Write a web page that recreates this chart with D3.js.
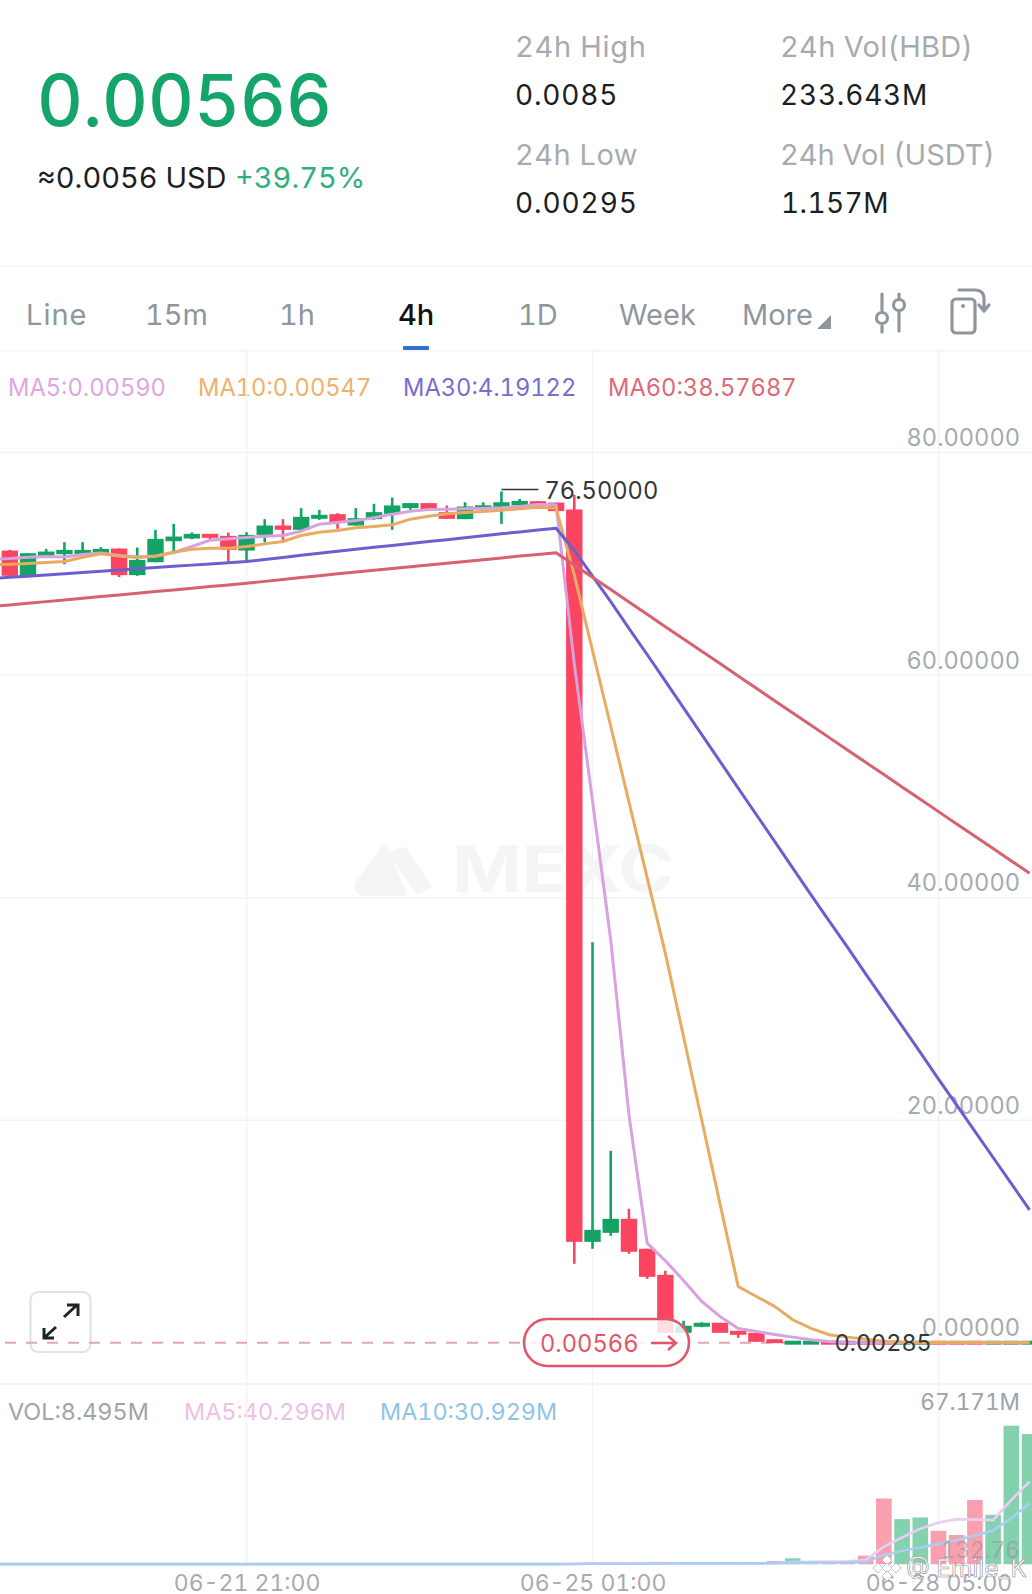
<!DOCTYPE html>
<html>
<head>
<meta charset="utf-8">
<title>HBD 4h</title>
<script src="https://cdn.jsdelivr.net/npm/d3@7"></script>
<style>
    html, body { margin: 0; padding: 0; background: #fff; overflow: hidden; }
    text { font-family: Inter, "Noto Sans", sans-serif; font-feature-settings: 'tnum' 1; font-variant-numeric: tabular-nums; }
</style>
</head>
<body>
<div id="chart"></div>
<script>
// first entry of every series sits just off the left edge, so the lines run to x=0
const candleIndex = d3.range(-1, 57);

const opens = [70.5,
    71.19, 68.92, 70.71, 70.86, 70.89, 70.95, 71.37, 68.98, 70.14, 72.03,
    72.27, 72.69, 72.51, 71.19, 72.6, 73.44, 73.05, 74.04, 74.46, 73.44,
    74.01, 74.49, 75.0, 75.45, 74.64, 74.01, 74.91, 75.0, 75.24, 75.59,
    75.5, 74.88, 9.07, 9.88, 11.14, 8.45, 6.11, 0.9, 1.44, 1.8,
    1.08, 0.9, 0.27, 0.0095, 0.0102, 0.0112, 0.0104, 0.0096, 0.0088, 0.0041,
    0.0046, 0.0071, 0.0065, 0.0059, 0.0048, 0.0052, 0.0055];
const closes = [71.0,
    68.92, 70.95, 71.1, 71.25, 71.25, 71.34, 68.98, 70.35, 72.24, 72.45,
    72.69, 72.33, 71.25, 72.6, 73.44, 73.05, 74.22, 74.4, 73.74, 74.1,
    74.64, 75.24, 75.45, 74.85, 74.04, 75.15, 75.24, 75.53, 75.65, 75.3,
    74.73, 9.07, 10.15, 11.14, 8.18, 5.93, 0.9, 1.53, 1.8, 0.9,
    0.72, 0.09, 0.02, 0.0102, 0.0112, 0.0104, 0.0096, 0.0088, 0.0041, 0.0046,
    0.0071, 0.0065, 0.0059, 0.0048, 0.0052, 0.0055, 0.00566];
const highs = [71.2,
    71.25, 70.95, 71.34, 71.94, 71.94, 71.49, 71.37, 71.46, 73.05, 73.59,
    72.81, 72.69, 72.81, 72.84, 74.01, 74.01, 75.0, 74.85, 74.55, 75.0,
    75.39, 75.95, 75.45, 75.45, 75.24, 75.53, 75.53, 76.5, 75.83, 75.65,
    75.5, 76.2, 36.0, 17.25, 12.04, 8.45, 6.47, 1.98, 1.85, 1.8,
    1.08, 0.9, 0.27, 0.0115, 0.012, 0.0115, 0.0105, 0.0095, 0.0092, 0.005,
    0.0085, 0.0075, 0.0068, 0.006, 0.0058, 0.0062, 0.0085];
const lows = [70.3,
    68.86, 68.86, 70.71, 69.96, 70.71, 70.8, 68.8, 68.92, 70.14, 71.1,
    72.21, 72.15, 70.2, 70.11, 71.91, 72.06, 73.05, 73.95, 73.14, 73.44,
    73.95, 73.05, 74.85, 74.85, 74.04, 74.01, 74.91, 73.59, 75.24, 75.3,
    74.73, 7.1, 8.45, 9.61, 8.0, 5.75, 0.9, 0.9, 1.4, 0.9,
    0.45, 0.09, 0.02, 0.009, 0.0098, 0.0098, 0.00285, 0.008, 0.004, 0.0038,
    0.0042, 0.006, 0.0055, 0.0046, 0.0046, 0.005, 0.0052];

const ma5 = [70.4,
    70.47, 70.59, 70.65, 70.62, 70.83, 70.98, 70.74, 70.62, 70.71, 71.01,
    71.55, 72.12, 72.24, 72.36, 72.48, 72.54, 72.93, 73.56, 73.71, 73.89,
    74.13, 74.46, 74.73, 74.88, 74.91, 74.94, 74.97, 75.03, 75.15, 75.33,
    75.3, 61.0, 48.7, 36.2, 20.5, 8.95, 7.37, 5.6, 3.71, 2.37,
    1.29, 1.02, 0.75, 0.51, 0.27, 0.12, 0.03, 0.012, 0.009, 0.0076,
    0.0066, 0.0062, 0.006, 0.0059, 0.0058, 0.0058, 0.0059];
const ma10 = [69.9,
    69.96, 70.02, 70.11, 70.2, 70.59, 70.89, 70.71, 70.56, 70.68, 71.04,
    71.31, 71.4, 71.4, 71.55, 71.79, 72.0, 72.54, 72.84, 72.99, 73.23,
    73.35, 73.5, 74.01, 74.28, 74.49, 74.61, 74.7, 74.82, 74.94, 75.09,
    75.0, 69.0, 62.2, 55.4, 48.6, 41.8, 35.0, 27.5, 20.0, 12.5,
    5.06, 4.16, 3.27, 2.07, 1.29, 0.72, 0.51, 0.33, 0.15, 0.06,
    0.03, 0.02, 0.012, 0.008, 0.006, 0.0056, 0.00547];
const ma30 = [68.67,
    68.78, 68.89, 69.0, 69.11, 69.22, 69.33, 69.44, 69.55, 69.66, 69.77,
    69.88, 69.99, 70.1, 70.2, 70.39, 70.57, 70.76, 70.94, 71.13, 71.3,
    71.48, 71.65, 71.82, 72.0, 72.17, 72.34, 72.52, 72.7, 72.86, 73.03,
    73.2, 71.2, 68.9, 66.6, 64.2, 61.85, 59.45, 57.05, 54.65, 52.25,
    49.85, 47.45, 45.05, 42.65, 40.25, 37.9, 35.55, 33.15, 30.8, 28.45,
    26.1, 23.7, 21.35, 19.0, 16.65, 14.3, 11.95];
const ma60 = [66.15,
    66.3, 66.45, 66.6, 66.75, 66.9, 67.05, 67.2, 67.35, 67.5, 67.65,
    67.8, 67.95, 68.1, 68.25, 68.42, 68.59, 68.76, 68.93, 69.1, 69.26,
    69.42, 69.58, 69.74, 69.9, 70.05, 70.21, 70.37, 70.53, 70.69, 70.84,
    71.0, 69.89, 68.78, 67.68, 66.57, 65.46, 64.35, 63.24, 62.14, 61.03,
    59.92, 58.81, 57.7, 56.6, 55.49, 54.38, 53.27, 52.16, 51.06, 49.95,
    48.84, 47.73, 46.62, 45.52, 44.41, 43.3, 42.2];

// volume in millions
const volumes = [0.1,
    0.12, 0.1, 0.08, 0.09, 0.07, 0.06, 0.2, 0.15, 0.18, 0.1,
    0.08, 0.07, 0.15, 0.14, 0.12, 0.1, 0.13, 0.08, 0.1, 0.09,
    0.08, 0.14, 0.06, 0.05, 0.07, 0.08, 0.06, 0.16, 0.06, 0.05,
    0.2, 0.6, 0.9, 0.5, 0.4, 0.4, 0.6, 0.5, 0.3, 0.3,
    0.3, 0.4, 1.6, 2.9, 0.9, 0.8, 0.9, 4.2, 31.9, 21.9,
    22.7, 16.2, 14.2, 31.2, 24.0, 67.171, 63.1];
const volMa5 = [0.1,
    0.1, 0.1, 0.1, 0.1, 0.1, 0.1, 0.1, 0.1, 0.1, 0.1,
    0.1, 0.1, 0.1, 0.1, 0.1, 0.1, 0.1, 0.1, 0.1, 0.1,
    0.1, 0.1, 0.1, 0.1, 0.1, 0.1, 0.1, 0.1, 0.1, 0.1,
    0.1, 0.2, 0.4, 0.5, 0.5, 0.6, 0.6, 0.5, 0.45, 0.4,
    0.4, 0.4, 0.6, 1.1, 1.2, 1.3, 1.4, 2.1, 8.6, 13.0,
    17.2, 20.2, 21.9, 21.7, 21.4, 31.2, 40.1];
const volMa10 = [0.1,
    0.1, 0.1, 0.1, 0.1, 0.1, 0.1, 0.1, 0.1, 0.1, 0.1,
    0.1, 0.1, 0.1, 0.1, 0.1, 0.1, 0.1, 0.1, 0.1, 0.1,
    0.1, 0.1, 0.1, 0.1, 0.1, 0.1, 0.1, 0.1, 0.1, 0.1,
    0.1, 0.15, 0.25, 0.3, 0.3, 0.35, 0.4, 0.45, 0.45, 0.45,
    0.45, 0.45, 0.55, 0.8, 0.8, 0.85, 0.9, 1.3, 4.5, 6.6,
    8.1, 9.9, 11.8, 13.9, 16.4, 22.3, 29.6];

const priceTicks = [0, 20, 40, 60, 80];
const timeTickIndex = [13, 32, 51];
const timeTickLabels = ['06-21 21:00', '06-25 01:00', '06-28 05:00'];

const tabs = ['Line', '15m', '1h', '4h', '1D', 'Week', 'More'];
const priceLegend = ['MA5:0.00590', 'MA10:0.00547', 'MA30:4.19122', 'MA60:38.57687'];
const volumeLegend = ['VOL:8.495M', 'MA5:40.296M', 'MA10:30.929M'];

const RED = '#fb4460';
const GREEN = '#13a365';
const GREY = '#8f969d';
const AXIS_GREY = '#a6abb1';

const width = 1032;
const height = 1594;

const svg = d3.select('#chart')
    .append('svg')
    .attr('width', width)
    .attr('height', height)
    .style('display', 'block');

const x = d3.scaleLinear().domain([-1, 56]).range([-8.42, 1029.55]);
const y = d3.scaleLinear().domain([0, 80]).range([1342.8, 452.5]);
const yVol = d3.scaleLinear().domain([0, 67.171]).range([1564.3, 1425.7]);

function label(parent, px, py, str, size, fill, anchor, weight) {
    return parent.append('text')
        .attr('x', px)
        .attr('y', py)
        .attr('font-size', size)
        .attr('fill', fill)
        .attr('text-anchor', anchor || 'start')
        .attr('font-weight', weight || 400)
        .text(str);
}

// header
const header = svg.append('g');
label(header, 37, 126, '0.00566', 71, '#15a56a', 'start', 500);
label(header, 37, 188, '≈0.0056 USD', 29, '#1c1f22');
label(header, 235, 188, '+39.75%', 29, '#2fae7f');
label(header, 515, 57, '24h High', 29, AXIS_GREY).attr('letter-spacing', 0.7);
label(header, 515, 105, '0.0085', 28, '#1c1f22').attr('letter-spacing', 0.8);
label(header, 515, 165, '24h Low', 29, AXIS_GREY).attr('letter-spacing', 0.5);
label(header, 515, 213, '0.00295', 28, '#1c1f22').attr('letter-spacing', 0.9);
label(header, 780, 57, '24h Vol(HBD)', 29, AXIS_GREY).attr('letter-spacing', 0.3);
label(header, 780, 105, '233.643M', 28, '#1c1f22').attr('letter-spacing', 0.8);
label(header, 780, 165, '24h Vol (USDT)', 29, AXIS_GREY);
label(header, 781, 213, '1.157M', 28, '#1c1f22').attr('letter-spacing', 0.4);

header.append('rect').attr('x', 0).attr('y', 265).attr('width', width).attr('height', 2).attr('fill', '#f5f6f7');
header.append('rect').attr('x', 0).attr('y', 350).attr('width', width).attr('height', 1.5).attr('fill', '#f3f4f5');

// tab row
const tabX = [26, 145, 279, 398, 518, 619, 742];
tabs.forEach((t, i) => {
    label(header, tabX[i], 325, t, 29, t === '4h' ? '#111' : GREY, 'start', t === '4h' ? 500 : 400)
        .attr('letter-spacing', t === 'Line' ? 1 : 0);
});
header.append('rect').attr('x', 403).attr('y', 346).attr('width', 26).attr('height', 4).attr('rx', 1).attr('fill', '#2f6fd0');
header.append('path').attr('d', 'M817 329 L831 329 L831 315 Z').attr('fill', GREY);

// slider icon
const icons = header.append('g').attr('fill', 'none').attr('stroke', GREY).attr('stroke-width', 3.2).attr('stroke-linecap', 'round');
icons.append('path').attr('d', 'M882 294 L882 310 M882 326 L882 332 M899 294 L899 298 M899 312 L899 331');
icons.append('circle').attr('cx', 882).attr('cy', 318).attr('r', 5.5);
icons.append('circle').attr('cx', 899).attr('cy', 305).attr('r', 5.5);
// rotate-phone icon
icons.append('rect').attr('x', 952).attr('y', 299).attr('width', 23).attr('height', 34).attr('rx', 4);
icons.append('path').attr('d', 'M959 290 L975 290 Q984 290 984 299 L984 311 M979 305 L984 311 L989 305');
icons.append('circle').attr('cx', 963).attr('cy', 306).attr('r', 1).attr('stroke-width', 2);

// legends
const legendColors = ['#dfa6e0', '#eeb26a', '#7a6dcf', '#dd6a78'];
const legendX = [8, 198, 403, 608];
priceLegend.forEach((t, i) => label(svg, legendX[i], 396, t, 23.7, legendColors[i]));

const volLegendColors = ['#a0a4a9', '#ecbfe8', '#8fc3e8'];
const volLegendX = [8, 184, 380];
volumeLegend.forEach((t, i) => label(svg, volLegendX[i], 1420, t, 23.4, volLegendColors[i]));

// grid
const grid = svg.append('g').attr('stroke', '#f2f3f4').attr('stroke-width', 1.5);
grid.selectAll('line.h')
    .data(priceTicks.filter(d => d > 0))
    .enter().append('line')
    .attr('class', 'h')
    .attr('x1', 0).attr('x2', width)
    .attr('y1', d => y(d)).attr('y2', d => y(d));
grid.append('line').attr('x1', 0).attr('x2', width).attr('y1', 1384).attr('y2', 1384);
grid.selectAll('line.v')
    .data(timeTickIndex)
    .enter().append('line')
    .attr('class', 'v')
    .attr('x1', d => x(d)).attr('x2', d => x(d))
    .attr('y1', 351).attr('y2', 1564);

// watermark behind the candles
const mark = svg.append('g').attr('fill', '#f4f5f6');
mark.append('path')
    .attr('d', 'M384 849 L358 884 Q356 893 366 893 L404 893 Z')
    .attr('stroke', '#f4f5f6').attr('stroke-width', 6).attr('stroke-linejoin', 'round');
mark.append('path')
    .attr('d', 'M404 850 L428 886 L418 891 L392 854 Z')
    .attr('stroke', '#f4f5f6').attr('stroke-width', 6).attr('stroke-linejoin', 'round');
mark.append('text')
    .attr('x', 452).attr('y', 892)
    .attr('font-size', 64).attr('font-weight', 700)
    .attr('textLength', 222).attr('lengthAdjust', 'spacingAndGlyphs')
    .text('MEXC');

// axes, labels are tucked just above each gridline
const yAxis = d3.axisLeft(y).tickValues(priceTicks).tickFormat(d3.format('.5f')).tickSize(0).tickPadding(0);
const yAxisG = svg.append('g').attr('transform', 'translate(1020,0)').call(yAxis);
yAxisG.select('.domain').remove();
yAxisG.selectAll('text')
    .attr('font-size', 23.6)
    .attr('fill', AXIS_GREY)
    .attr('dy', -7);

const xAxis = d3.axisBottom(x).tickValues(timeTickIndex).tickFormat((d, i) => timeTickLabels[i]).tickSize(0).tickPadding(0);
const xAxisG = svg.append('g').attr('transform', 'translate(0,1575)').call(xAxis);
xAxisG.select('.domain').remove();
xAxisG.selectAll('text')
    .attr('font-size', 23)
    .attr('fill', AXIS_GREY);

// last price line
svg.append('line')
    .attr('x1', 5).attr('x2', width)
    .attr('y1', y(0.00566)).attr('y2', y(0.00566))
    .attr('stroke', '#dfa9b3')
    .attr('stroke-width', 2)
    .attr('stroke-dasharray', '11 10');

// candles
const candleWidth = 16.4;
const isUp = i => closes[i] >= opens[i];
const candleG = svg.append('g');
const candles = candleG.selectAll('g')
    .data(candleIndex)
    .enter().append('g')
    .attr('fill', (d, i) => isUp(i) ? GREEN : RED)
    .attr('stroke', (d, i) => isUp(i) ? GREEN : RED);
candles.append('line')
    .attr('x1', d => x(d)).attr('x2', d => x(d))
    .attr('y1', (d, i) => y(highs[i]))
    .attr('y2', (d, i) => y(lows[i]))
    .attr('stroke-width', 2.6);
// tiny bodies near zero still get a visible height
candles.append('rect')
    .attr('stroke', 'none')
    .attr('x', d => x(d) - candleWidth / 2)
    .attr('width', candleWidth)
    .attr('y', (d, i) => {
        const top = y(Math.max(opens[i], closes[i]));
        const bottom = y(Math.min(opens[i], closes[i]));
        return bottom - top < 4 ? (top + bottom) / 2 - 2 : top;
    })
    .attr('height', (d, i) => Math.max(4, Math.abs(y(opens[i]) - y(closes[i]))));

// price moving averages
const seriesLine = (values, scale) => d3.line()
    .x(d => x(d))
    .y((d, i) => scale(values[i]));
[[ma5, '#d7a2de'], [ma10, '#e8ab62'], [ma30, '#6d5ed0'], [ma60, '#d6616f']].forEach(([values, color]) => {
    svg.append('path')
        .attr('d', seriesLine(values, y)(candleIndex))
        .attr('fill', 'none')
        .attr('stroke', color)
        .attr('stroke-width', 3)
        .attr('stroke-linejoin', 'round');
});

// high and low markers
const highIdx = d3.maxIndex(highs);
const lowIdx = d3.minIndex(lows);
svg.append('line')
    .attr('x1', x(candleIndex[highIdx])).attr('x2', x(candleIndex[highIdx]) + 37)
    .attr('y1', y(highs[highIdx]) - 2).attr('y2', y(highs[highIdx]) - 2)
    .attr('stroke', '#33373b').attr('stroke-width', 1.6);
label(svg, x(candleIndex[highIdx]) + 43, 499, d3.format('.5f')(highs[highIdx]), 23.7, '#33373b');
label(svg, x(candleIndex[lowIdx]) - 13, 1351, d3.format('.5f')(lows[lowIdx]), 23.4, '#33373b');

// last price pill
const pill = svg.append('g');
pill.append('rect')
    .attr('x', 524).attr('y', 1319).attr('width', 165).attr('height', 47).attr('rx', 23.5)
    .attr('fill', 'rgba(255,255,255,0.82)')
    .attr('stroke', '#e0566b').attr('stroke-width', 2.6);
label(pill, 540, 1352, '0.00566', 23.7, '#e0566b');
pill.append('path')
    .attr('d', 'M651 1343 L676 1343 M668 1336 L676 1343 L668 1350')
    .attr('fill', 'none').attr('stroke', '#e0566b').attr('stroke-width', 2.4);

// expand button
const expand = svg.insert('g', 'line[stroke-dasharray]');
expand.append('rect')
    .attr('x', 30.5).attr('y', 1292).attr('width', 60).attr('height', 60).attr('rx', 8)
    .attr('fill', '#fff').attr('stroke', '#dfe3e8').attr('stroke-width', 2.2);
expand.append('path')
    .attr('d', 'M64 1317 L77 1305 M67 1305 L78 1305 L78 1316 M56 1327 L44 1338 M44 1328 L44 1338 L54 1338')
    .attr('fill', 'none').attr('stroke', '#1f2226').attr('stroke-width', 3);

// volume
svg.append('g').selectAll('rect')
    .data(candleIndex)
    .enter().append('rect')
    .attr('x', d => x(d) - 7.8)
    .attr('width', 15.6)
    .attr('y', (d, i) => yVol(volumes[i]))
    .attr('height', (d, i) => yVol(0) - yVol(volumes[i]))
    .attr('fill', (d, i) => isUp(i) ? '#84d1ae' : '#fa9fae');
[[volMa5, '#eccdf3'], [volMa10, '#a9cff0']].forEach(([values, color]) => {
    svg.append('path')
        .attr('d', seriesLine(values, yVol)(candleIndex))
        .attr('fill', 'none')
        .attr('stroke', color)
        .attr('stroke-width', 2.6);
});
label(svg, 1020, 1410, '67.171M', 22.6, '#9da3a9', 'end');

// site watermark at the bottom corner
label(svg, 1020, 1558, '132.76', 22.6, 'rgba(150,150,150,0.6)', 'end');
const stamp = svg.append('g').attr('fill', '#fff').attr('stroke', '#b5b8bc').attr('stroke-width', 0.8);
[[887, 1560], [878, 1568], [896, 1568], [887, 1568], [887, 1576]].forEach(([cx, cy]) => {
    stamp.append('path').attr('d', `M${cx} ${cy - 5} L${cx + 5} ${cy} L${cx} ${cy + 5} L${cx - 5} ${cy} Z`);
});
label(svg, 906, 1577, '@ Emile_K', 24.5, '#fff')
    .attr('stroke', '#8b8f94').attr('stroke-width', 0.6);
</script>
</body>
</html>
